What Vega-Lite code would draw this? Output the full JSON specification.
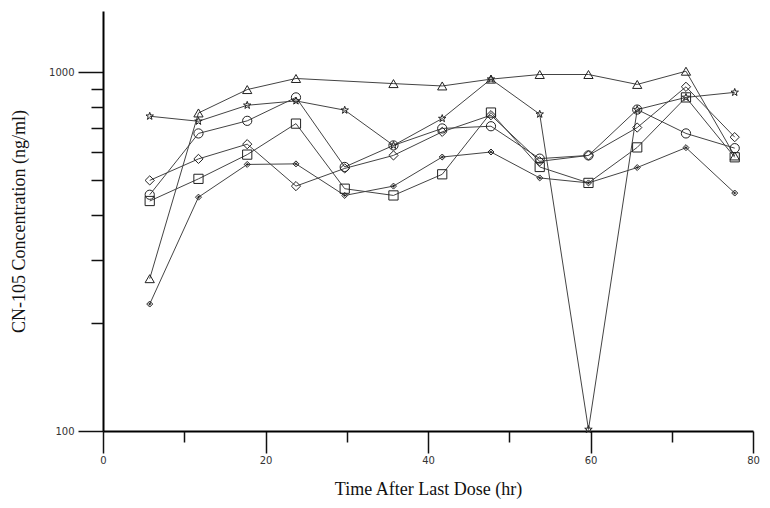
{
  "$schema": "https://vega.github.io/schema/vega-lite/v6.json",
  "width": 650,
  "height": 420,
  "autosize": "none",
  "padding": {"left": 103, "top": 11, "right": 17, "bottom": 77},
  "background": "white",
  "config": {
    "view": {"stroke": null},
    "axis": {
      "grid": false,
      "labelFlush": false,
      "domainColor": "#000",
      "domainWidth": 2,
      "tickColor": "#111",
      "tickWidth": 1.5,
      "labelFont": "DejaVu Sans",
      "labelFontSize": 10,
      "labelColor": "#333",
      "titleFont": "Liberation Serif",
      "titleFontSize": 18,
      "titleFontWeight": "normal",
      "titleColor": "#111"
    }
  },
  "data": {
    "values": [
      {"s": "S1", "t": 5.75, "v": 266}, {"s": "S1", "t": 11.75, "v": 771}, {"s": "S1", "t": 17.75, "v": 896}, {"s": "S1", "t": 23.75, "v": 962}, {"s": "S1", "t": 35.75, "v": 931}, {"s": "S1", "t": 41.75, "v": 917}, {"s": "S1", "t": 47.75, "v": 958}, {"s": "S1", "t": 53.75, "v": 987}, {"s": "S1", "t": 59.75, "v": 987}, {"s": "S1", "t": 65.75, "v": 926}, {"s": "S1", "t": 71.75, "v": 1008}, {"s": "S1", "t": 77.75, "v": 585},
      {"s": "S2", "t": 5.75, "v": 755}, {"s": "S2", "t": 11.75, "v": 731}, {"s": "S2", "t": 17.75, "v": 810}, {"s": "S2", "t": 23.75, "v": 833}, {"s": "S2", "t": 29.75, "v": 785}, {"s": "S2", "t": 35.75, "v": 626}, {"s": "S2", "t": 41.75, "v": 744}, {"s": "S2", "t": 47.75, "v": 958}, {"s": "S2", "t": 53.75, "v": 765}, {"s": "S2", "t": 59.75, "v": 101}, {"s": "S2", "t": 65.75, "v": 788}, {"s": "S2", "t": 71.75, "v": 852}, {"s": "S2", "t": 77.75, "v": 880},
      {"s": "S3", "t": 5.75, "v": 456}, {"s": "S3", "t": 11.75, "v": 676}, {"s": "S3", "t": 17.75, "v": 733}, {"s": "S3", "t": 23.75, "v": 852}, {"s": "S3", "t": 29.75, "v": 545}, {"s": "S3", "t": 35.75, "v": 626}, {"s": "S3", "t": 41.75, "v": 698}, {"s": "S3", "t": 47.75, "v": 708}, {"s": "S3", "t": 53.75, "v": 575}, {"s": "S3", "t": 59.75, "v": 587}, {"s": "S3", "t": 65.75, "v": 788}, {"s": "S3", "t": 71.75, "v": 676}, {"s": "S3", "t": 77.75, "v": 615},
      {"s": "S4", "t": 5.75, "v": 438}, {"s": "S4", "t": 11.75, "v": 505}, {"s": "S4", "t": 17.75, "v": 590}, {"s": "S4", "t": 23.75, "v": 720}, {"s": "S4", "t": 29.75, "v": 474}, {"s": "S4", "t": 35.75, "v": 454}, {"s": "S4", "t": 41.75, "v": 520}, {"s": "S4", "t": 47.75, "v": 773}, {"s": "S4", "t": 53.75, "v": 545}, {"s": "S4", "t": 59.75, "v": 492}, {"s": "S4", "t": 65.75, "v": 618}, {"s": "S4", "t": 71.75, "v": 852}, {"s": "S4", "t": 77.75, "v": 580},
      {"s": "S5", "t": 5.75, "v": 500}, {"s": "S5", "t": 11.75, "v": 574}, {"s": "S5", "t": 17.75, "v": 631}, {"s": "S5", "t": 23.75, "v": 482}, {"s": "S5", "t": 29.75, "v": 540}, {"s": "S5", "t": 35.75, "v": 587}, {"s": "S5", "t": 41.75, "v": 683}, {"s": "S5", "t": 47.75, "v": 760}, {"s": "S5", "t": 53.75, "v": 565}, {"s": "S5", "t": 59.75, "v": 587}, {"s": "S5", "t": 65.75, "v": 702}, {"s": "S5", "t": 71.75, "v": 912}, {"s": "S5", "t": 77.75, "v": 660},
      {"s": "S6", "t": 5.75, "v": 226}, {"s": "S6", "t": 11.75, "v": 449}, {"s": "S6", "t": 17.75, "v": 554}, {"s": "S6", "t": 23.75, "v": 556}, {"s": "S6", "t": 29.75, "v": 454}, {"s": "S6", "t": 35.75, "v": 482}, {"s": "S6", "t": 41.75, "v": 581}, {"s": "S6", "t": 47.75, "v": 600}, {"s": "S6", "t": 53.75, "v": 508}, {"s": "S6", "t": 59.75, "v": 492}, {"s": "S6", "t": 65.75, "v": 543}, {"s": "S6", "t": 71.75, "v": 617}, {"s": "S6", "t": 77.75, "v": 461}
    ]
  },
  "layer": [
    {
      "mark": {"type": "line", "color": "#444", "strokeWidth": 1},
      "encoding": {
        "x": {
          "field": "t", "type": "quantitative",
          "scale": {"domain": [0, 80], "nice": false, "zero": false},
          "axis": {"orient": "bottom", "values": [0, 20, 40, 60, 80], "tickSize": 22, "labelPadding": 2, "title": "Time After Last Dose (hr)", "titleY": 63, "titleBaseline": "alphabetic"}
        },
        "y": {
          "field": "v", "type": "quantitative",
          "scale": {"type": "log", "domain": [100, 1484], "nice": false},
          "axis": {"orient": "left", "values": [100, 1000], "format": "d", "tickSize": 25, "labelPadding": 4, "title": "CN-105 Concentration (ng/ml)", "titleX": -79, "titleBaseline": "alphabetic"}
        },
        "detail": {"field": "s", "type": "nominal"}
      }
    },
    {
      "mark": {"type": "point", "filled": false, "color": "#222", "stroke": "#222", "strokeWidth": 1, "opacity": 1, "size": 85},
      "encoding": {
        "x": {
          "field": "t", "type": "quantitative",
          "axis": {"orient": "bottom", "values": [10, 30, 50, 70], "tickSize": 11, "labels": false, "domain": false, "title": null}
        },
        "y": {
          "field": "v", "type": "quantitative",
          "axis": {"orient": "left", "values": [200, 300, 400, 500, 600, 700, 800, 900], "tickSize": 12, "labels": false, "domain": false, "title": null}
        },
        "shape": {
          "field": "s", "type": "nominal",
          "scale": {
            "domain": ["S1", "S2", "S3", "S4", "S5", "S6"],
            "range": [
              "triangle-up",
              "M0,-0.85L0.2,-0.275L0.81,-0.263L0.323,0.105L0.5,0.688L0,0.34L-0.5,0.688L-0.323,0.105L-0.81,-0.263L-0.2,-0.275Z",
              "circle",
              "square",
              "diamond",
              "M0,-0.65L0.65,0L0,0.65L-0.65,0Z M-0.3,0L0.3,0 M0,-0.3L0,0.3"
            ]
          },
          "legend": null
        }
      }
    }
  ],
  "resolve": {"axis": {"x": "independent", "y": "independent"}}
}
